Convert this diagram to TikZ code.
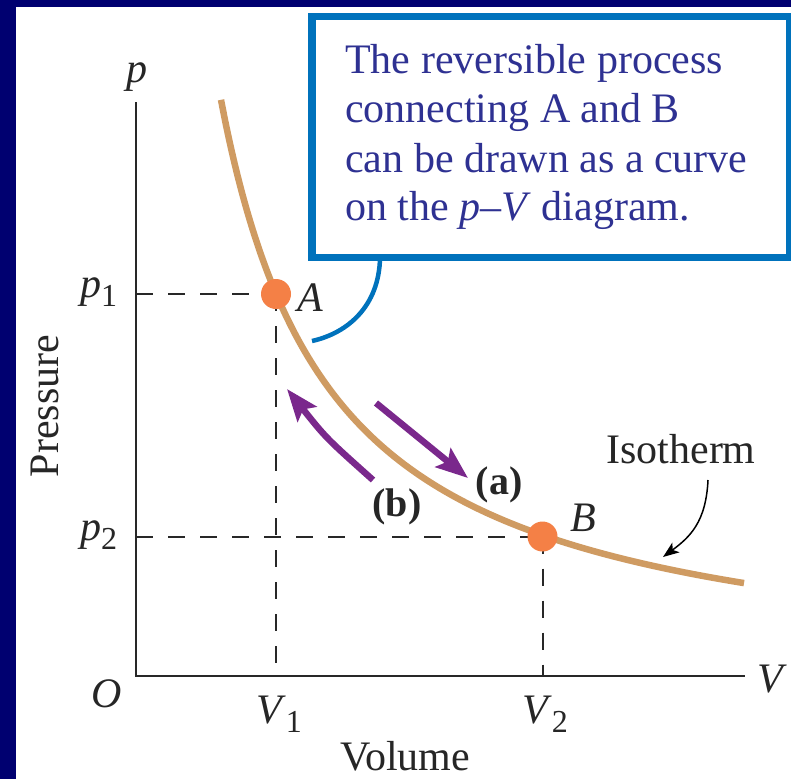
\documentclass[tikz,border=0pt]{standalone}
\usepackage{fontspec}
\setmainfont{Liberation Serif}
\usetikzlibrary{arrows.meta}
\definecolor{navy}{RGB}{0,0,112}
\definecolor{boxblue}{RGB}{0,114,188}
\definecolor{boxtext}{RGB}{46,49,146}
\definecolor{isotan}{RGB}{207,155,98}
\definecolor{dotorange}{RGB}{244,128,70}
\definecolor{procpurple}{RGB}{122,40,140}
\definecolor{axisgray}{RGB}{40,40,40}
\newcommand{\lblfont}{\fontsize{42}{49}\selectfont}
\newcommand{\subsc}[1]{\raisebox{-9pt}{\fontsize{32}{32}\selectfont #1}}
\tikzset{
  axisline/.style={axisgray, line width=2.2pt},
  dashline/.style={axisgray, line width=2pt, dash pattern=on 17pt off 15pt},
  isocurve/.style={isotan, line width=6.5pt},
  procarrow/.style={procpurple, line width=6.5pt, -{Stealth[length=32pt, width=24pt, inset=6pt]}},
  pointer/.style={black, line width=1.5pt, -{Stealth[length=16pt, width=12pt, inset=4pt]}},
  calloutbox/.style={draw=boxblue, line width=7.5pt, minimum width=478pt, minimum height=241pt, inner sep=0pt},
  callout/.style={boxblue, line width=4.5pt},
  boxline/.style={text=boxtext, font=\lblfont, inner sep=0pt, anchor=base west},
  lbl/.style={text=black!85, font=\lblfont, inner sep=0pt},
  dot/.style={fill=dotorange}
}
\begin{document}
\begin{tikzpicture}[x=1pt, y={(0pt,-1pt)}]
\useasboundingbox (0,0) rectangle (791,779);
\fill[white] (0,0) rectangle (791,779);
\fill[navy] (0,0) rectangle (16,779);
\fill[navy] (0,0) rectangle (791,7);

% key points
\coordinate (O) at (136,676);
\coordinate (ptop) at (136,102);
\coordinate (vend) at (745,676);
\coordinate (A) at (276,294);
\coordinate (B) at (542.5,536.5);
\coordinate (p1) at (136,294);
\coordinate (p2) at (136,536.5);
\coordinate (V1) at (276,676);
\coordinate (V2) at (542.5,676);

% dashed guides
\draw[dashline] (p1) -- (A);
\draw[dashline] (A) -- (V1);
\draw[dashline] (p2) -- (B);
\draw[dashline] (B) -- (V2);

% axes
\draw[axisline] (ptop) -- (O) -- (vend);

% isotherm
\draw[isocurve] plot[domain=85:608, samples=120, smooth]
  ({136+\x}, {676 - (653/((\x+26.4)/100) - 10)});

% states
\fill[dot] (A) circle (15);
\fill[dot] (B) circle (15);

% process arrows
\coordinate (a1) at (376,403);
\coordinate (a2) at (468,478);
\coordinate (b1) at (373,480);
\coordinate (b2) at (287,389);
\draw[procarrow] (a1) -- (a2);
\draw[procarrow] (b1) .. controls (326,438) .. (b2);

% callout box
\node[calloutbox] (box) at (551,137) {};
\node[boxline] (t1) at (345,73) {The reversible process};
\node[boxline] (t2) at (345,122) {connecting A and B};
\node[boxline] (t3) at (345,172) {can be drawn as a curve};
\node[boxline] (t4) at (345,220) {on the \textit{p}–\textit{V} diagram.};
\coordinate (cstart) at (380,258);
\coordinate (cend) at (312,341);
\draw[callout] (cstart) .. controls (379,306) and (348,333) .. (cend);

% isotherm pointer
\node[lbl, anchor=base] (iso) at (681,463) {Isotherm};
\coordinate (iso1) at (708,480);
\coordinate (iso2) at (663,557);
\draw[pointer] (iso1) .. controls (706,522) and (690,537) .. (iso2);

% labels
\node[lbl] (plab) at (137,77) {\textit{p}};
\node[lbl] (Vlab) at (772,679) {\textit{V}};
\node[lbl] (Olab) at (107,694) {\textit{O}};
\node[lbl, anchor=base west] (p1lab) at (80,297) {\textit{p}\subsc{1}};
\node[lbl, anchor=base west] (p2lab) at (80,540) {\textit{p}\subsc{2}};
\node[lbl, anchor=base west] (V1lab) at (256,723) {\textit{V}\subsc{1}};
\node[lbl, anchor=base west] (V2lab) at (522,723) {\textit{V}\subsc{2}};
\node[lbl] (Alab) at (310,298) {\textit{A}};
\node[lbl] (Blab) at (583,518) {\textit{B}};
\node[lbl, font=\fontsize{40}{40}\selectfont\bfseries] (alab) at (499,485) {(a)};
\node[lbl, font=\fontsize{40}{40}\selectfont\bfseries] (blab) at (397,507) {(b)};
\node[lbl, anchor=base] (vol) at (405,770) {Volume};
\node[lbl, anchor=base, rotate=90] (pres) at (58,406) {Pressure};
\end{tikzpicture}
\end{document}
